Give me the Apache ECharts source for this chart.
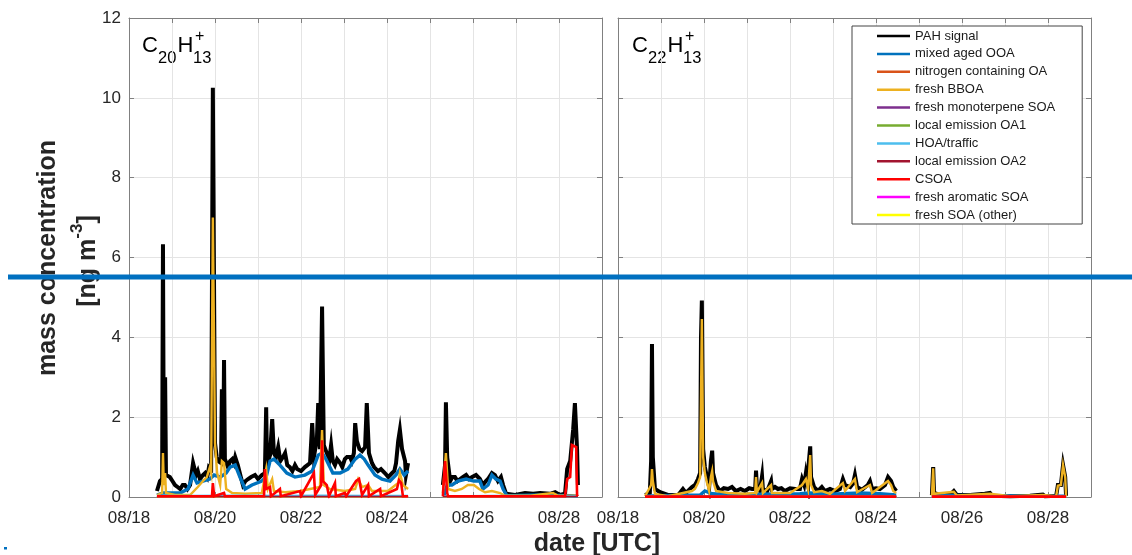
<!DOCTYPE html>
<html>
<head>
<meta charset="utf-8">
<script src="https://cdn.jsdelivr.net/npm/echarts@6/dist/echarts.min.js"></script>
<style>
html,body{margin:0;padding:0;background:#fff;}
#chart{width:1132px;height:555px;}
</style>
</head>
<body>
<div id="chart"></div>
<script>
// x values are days after 08/18 00:00 UTC
const xTickLabels = ['08/18','','08/20','','08/22','','08/24','','08/26','','08/28',''];
const seriesNames = ['PAH signal','mixed aged OOA','nitrogen containing OA','fresh BBOA','fresh monoterpene SOA','local emission OA1','HOA/traffic','local emission OA2','CSOA','fresh aromatic SOA','fresh SOA (other)'];
const seriesColors = ['#000000','#0072BD','#D95319','#EDB120','#7E2F8E','#77AC30','#4DBEEE','#A2142F','#FF0000','#FF00FF','#FFFF00'];

// ---- C20H13+ panel ----
const pahC20 = [[0.65,0.15],[0.72,0.4],[0.77,0.45],[0.79,6.33],[0.81,0.6],[0.84,3.0],[0.86,0.55],[0.95,0.5],[1.01,0.4],[1.07,0.3],[1.13,0.25],[1.19,0.2],[1.25,0.3],[1.30,0.3],[1.36,0.2],[1.42,0.3],[1.49,0.85],[1.56,0.55],[1.60,0.65],[1.65,0.45],[1.72,0.55],[1.77,0.6],[1.82,0.5],[1.86,0.75],[1.91,0.7],[1.95,10.25],[2.00,1.35],[2.04,1.0],[2.07,0.9],[2.14,0.85],[2.16,2.7],[2.19,0.9],[2.21,3.43],[2.23,0.95],[2.30,0.75],[2.35,0.9],[2.40,0.95],[2.44,0.85],[2.47,1.0],[2.53,0.8],[2.60,0.5],[2.65,0.3],[2.71,0.4],[2.77,0.45],[2.84,0.5],[2.93,0.55],[3.00,0.45],[3.09,0.55],[3.16,0.6],[3.19,2.25],[3.21,0.8],[3.28,1.05],[3.33,1.95],[3.37,1.1],[3.42,1.0],[3.47,1.25],[3.52,0.9],[3.58,1.0],[3.63,1.1],[3.68,0.8],[3.74,0.75],[3.80,0.65],[3.86,0.8],[3.91,0.7],[4.00,0.65],[4.09,0.75],[4.15,0.8],[4.21,0.85],[4.26,1.85],[4.30,1.0],[4.37,1.45],[4.40,2.35],[4.44,1.2],[4.49,4.77],[4.53,1.3],[4.60,1.1],[4.66,0.95],[4.70,1.3],[4.74,0.9],[4.79,0.8],[4.84,0.95],[4.91,0.85],[4.96,0.75],[5.02,0.95],[5.07,1.0],[5.14,1.0],[5.18,0.9],[5.23,1.1],[5.26,1.85],[5.30,1.4],[5.36,1.2],[5.42,1.15],[5.49,1.25],[5.53,2.35],[5.58,1.1],[5.65,0.85],[5.70,0.75],[5.79,0.65],[5.86,0.7],[5.95,0.6],[6.03,0.5],[6.12,0.6],[6.17,0.65],[6.21,0.85],[6.26,1.4],[6.30,1.68],[6.35,1.2],[6.42,0.9],[6.44,0.55],[6.49,0.85],[7.0,'-'],[7.30,0.3],[7.35,0.8],[7.37,2.37],[7.40,1.0],[7.47,0.4],[7.52,0.5],[7.58,0.5],[7.64,0.4],[7.70,0.45],[7.77,0.5],[7.84,0.55],[7.91,0.45],[7.98,0.5],[8.07,0.55],[8.16,0.45],[8.23,0.3],[8.30,0.4],[8.35,0.45],[8.44,0.6],[8.51,0.55],[8.58,0.4],[8.65,0.5],[8.70,0.3],[8.77,0.08],[8.98,0.05],[9.21,0.1],[9.40,0.08],[9.56,0.1],[9.79,0.08],[9.91,0.12],[10.02,0.05],[10.14,0.08],[10.19,0.7],[10.26,0.9],[10.33,1.7],[10.37,2.35],[10.42,1.2],[10.44,0.3]];
const ooaC20 = [[0.65,0.05],[0.79,0.1],[0.95,0.1],[1.19,0.1],[1.37,0.2],[1.49,0.55],[1.58,0.35],[1.72,0.4],[1.88,0.45],[1.98,0.55],[2.12,0.5],[2.26,0.6],[2.35,0.75],[2.47,0.8],[2.58,0.5],[2.70,0.2],[2.86,0.3],[3.09,0.4],[3.19,0.5],[3.28,0.9],[3.37,0.95],[3.51,0.8],[3.67,0.6],[3.86,0.5],[4.09,0.55],[4.26,0.65],[4.40,1.05],[4.49,1.1],[4.58,0.95],[4.74,0.6],[4.91,0.6],[5.09,0.7],[5.26,0.95],[5.37,1.05],[5.47,0.95],[5.56,0.8],[5.72,0.55],[5.88,0.45],[6.07,0.4],[6.21,0.55],[6.30,0.7],[6.40,0.55],[6.49,0.65],[7.0,'-'],[7.33,0.05],[7.40,0.3],[7.51,0.3],[7.65,0.4],[7.84,0.45],[8.02,0.4],[8.16,0.4],[8.23,0.2],[8.35,0.3],[8.44,0.55],[8.53,0.45],[8.63,0.4],[8.70,0.2],[8.79,0.03],[9.56,0.05],[10.26,0.03],[10.44,0.02]];
const noaC20 = [[0.65,0.01],[3.0,0.02],[6.49,0.01],[7.0,'-'],[7.30,0.01],[10.44,0.01]];
const bboaC20 = [[0.65,0.05],[0.77,0.1],[0.79,1.1],[0.81,0.3],[0.84,0.6],[0.86,0.1],[1.07,0.05],[1.42,0.05],[1.60,0.25],[1.72,0.4],[1.81,0.5],[1.88,0.75],[1.91,0.6],[1.95,7.0],[2.00,1.35],[2.05,0.6],[2.12,0.3],[2.16,0.9],[2.21,0.85],[2.26,0.2],[2.40,0.1],[2.70,0.08],[3.09,0.1],[3.19,0.7],[3.23,0.2],[3.33,0.45],[3.37,0.15],[3.63,0.12],[3.98,0.15],[4.21,0.2],[4.44,0.25],[4.49,1.68],[4.53,0.3],[4.67,0.2],[5.02,0.15],[5.26,0.2],[5.33,0.45],[5.42,0.25],[5.56,0.3],[5.65,0.15],[6.02,0.15],[6.26,0.35],[6.30,0.6],[6.37,0.3],[6.49,0.2],[7.0,'-'],[7.30,0.1],[7.37,1.1],[7.42,0.2],[7.58,0.15],[7.74,0.2],[7.88,0.3],[8.02,0.3],[8.14,0.2],[8.28,0.12],[8.44,0.15],[8.63,0.1],[8.74,0.03],[9.33,0.03],[9.86,0.1],[9.98,0.03],[10.44,0.03]];
const monoC20 = [[0.65,0.01],[3.5,0.01],[6.49,0.01],[7.0,'-'],[7.30,0.01],[10.44,0.01]];
const oa1C20 = [[0.65,0.01],[4.0,0.01],[6.49,0.01],[7.0,'-'],[7.30,0.01],[10.44,0.01]];
const hoaC20 = [[0.65,0.03],[1.5,0.03],[2.5,0.04],[3.5,0.03],[4.5,0.04],[5.5,0.03],[6.49,0.03],[7.0,'-'],[7.30,0.02],[8.5,0.03],[10.44,0.02]];
const oa2C20 = [[0.65,0.01],[5.0,0.01],[6.49,0.01],[7.0,'-'],[7.30,0.01],[10.44,0.01]];
const csoaC20 = [[0.65,0.02],[1.93,0.02],[1.95,0.35],[1.98,0.02],[2.21,0.1],[2.23,0.02],[3.14,0.02],[3.16,0.7],[3.19,0.2],[3.28,0.25],[3.30,0.02],[3.51,0.2],[3.53,0.02],[3.98,0.15],[4.00,0.02],[4.30,0.6],[4.33,0.05],[4.47,0.3],[4.49,1.42],[4.51,0.4],[4.60,0.3],[4.65,0.02],[4.79,0.35],[4.81,0.02],[5.02,0.1],[5.05,0.02],[5.28,0.4],[5.35,0.45],[5.42,0.05],[5.56,0.3],[5.58,0.02],[5.84,0.2],[5.86,0.02],[6.23,0.2],[6.28,0.42],[6.33,0.35],[6.37,0.02],[6.49,0.02],[7.0,'-'],[7.30,0.02],[7.33,0.6],[7.35,0.9],[7.40,0.1],[7.42,0.02],[10.14,0.02],[10.19,0.45],[10.26,0.5],[10.30,1.3],[10.40,1.25],[10.42,0.05],[10.44,0.02]];
const aroC20 = [[0.65,0.0],[6.49,0.0],[7.0,'-'],[7.30,0.0],[10.44,0.0]];
const soaC20 = [[0.65,0.0],[6.49,0.0],[7.0,'-'],[7.30,0.0],[10.44,0.0]];

// ---- C22H13+ panel ----
const pahC22 = [[0.63,0.05],[0.74,0.1],[0.77,0.9],[0.79,3.83],[0.81,1.0],[0.86,0.2],[0.98,0.12],[1.16,0.05],[1.40,0.05],[1.51,0.2],[1.58,0.1],[1.72,0.25],[1.79,0.3],[1.86,0.45],[1.91,0.6],[1.93,4.0],[1.95,4.92],[1.98,1.2],[2.02,0.75],[2.07,0.5],[2.12,0.25],[2.16,0.9],[2.19,1.16],[2.21,0.6],[2.28,0.3],[2.37,0.15],[2.46,0.22],[2.56,0.2],[2.65,0.25],[2.74,0.15],[2.85,0.2],[2.95,0.15],[3.05,0.22],[3.12,0.2],[3.19,0.2],[3.21,0.66],[3.23,0.25],[3.30,0.15],[3.35,0.52],[3.37,0.2],[3.47,0.15],[3.56,0.4],[3.58,0.2],[3.65,0.25],[3.72,0.2],[3.80,0.22],[3.88,0.15],[4.00,0.22],[4.12,0.2],[4.23,0.2],[4.28,0.45],[4.33,0.3],[4.37,0.6],[4.42,0.3],[4.44,0.9],[4.47,1.27],[4.49,0.5],[4.56,0.25],[4.65,0.15],[4.74,0.25],[4.81,0.15],[4.93,0.2],[5.05,0.15],[5.16,0.2],[5.23,0.45],[5.28,0.3],[5.40,0.25],[5.47,0.35],[5.51,0.55],[5.56,0.25],[5.67,0.18],[5.81,0.3],[5.86,0.4],[5.91,0.2],[6.00,0.22],[6.09,0.2],[6.21,0.3],[6.28,0.5],[6.35,0.4],[6.40,0.25],[6.47,0.15],[7.0,'-'],[7.30,0.05],[7.33,0.75],[7.35,0.1],[7.49,0.05],[7.72,0.05],[7.81,0.15],[7.88,0.05],[8.19,0.05],[8.53,0.08],[8.65,0.1],[8.70,0.03],[9.12,0.02],[9.58,0.03],[9.88,0.06],[9.93,0.02],[10.19,0.03],[10.23,0.3],[10.30,0.3],[10.35,0.8],[10.40,0.5],[10.42,0.03]];
const ooaC22 = [[0.63,0.02],[0.98,0.03],[1.91,0.05],[2.02,0.15],[2.19,0.08],[2.61,0.06],[3.30,0.07],[4.23,0.08],[4.47,0.1],[4.93,0.07],[5.63,0.1],[6.09,0.08],[6.47,0.05],[7.0,'-'],[7.30,0.02],[7.72,0.04],[8.65,0.04],[9.58,0.02],[10.42,0.02]];
const noaC22 = [[0.63,0.01],[3.5,0.01],[6.47,0.01],[7.0,'-'],[7.30,0.01],[10.42,0.01]];
const bboaC22 = [[0.63,0.02],[0.77,0.3],[0.79,0.7],[0.81,0.4],[0.86,0.08],[1.16,0.02],[1.51,0.1],[1.72,0.15],[1.79,0.2],[1.86,0.35],[1.91,0.5],[1.95,4.46],[1.98,1.0],[2.02,0.6],[2.07,0.35],[2.12,0.15],[2.16,0.5],[2.19,0.65],[2.21,0.4],[2.28,0.15],[2.56,0.1],[2.95,0.08],[3.19,0.1],[3.21,0.5],[3.23,0.12],[3.35,0.35],[3.37,0.1],[3.56,0.3],[3.58,0.1],[4.00,0.1],[4.28,0.3],[4.37,0.45],[4.42,0.2],[4.47,1.05],[4.49,0.3],[4.56,0.12],[4.74,0.15],[4.93,0.08],[5.23,0.35],[5.28,0.15],[5.51,0.45],[5.56,0.12],[5.86,0.3],[5.91,0.1],[6.28,0.4],[6.35,0.3],[6.40,0.15],[6.47,0.1],[7.0,'-'],[7.30,0.03],[7.33,0.72],[7.35,0.08],[7.81,0.13],[7.88,0.04],[8.65,0.08],[9.12,0.02],[9.88,0.05],[10.19,0.02],[10.23,0.28],[10.30,0.3],[10.35,0.8],[10.40,0.5],[10.42,0.02]];
const monoC22 = [[0.63,0.01],[4.0,0.01],[6.47,0.01],[7.0,'-'],[7.30,0.01],[10.42,0.01]];
const oa1C22 = [[0.63,0.01],[3.0,0.01],[6.47,0.01],[7.0,'-'],[7.30,0.01],[10.42,0.01]];
const hoaC22 = [[0.63,0.02],[2.0,0.02],[4.0,0.02],[6.47,0.02],[7.0,'-'],[7.30,0.01],[10.42,0.01]];
const oa2C22 = [[0.63,0.01],[5.0,0.01],[6.47,0.01],[7.0,'-'],[7.30,0.01],[10.42,0.01]];
const csoaC22 = [[0.63,0.01],[2.0,0.01],[4.0,0.01],[6.47,0.01],[7.0,'-'],[7.30,0.01],[9.0,0.01],[10.42,0.01]];
const aroC22 = [[0.63,0.0],[6.47,0.0],[7.0,'-'],[7.30,0.0],[10.42,0.0]];
const soaC22 = [[0.63,0.0],[6.47,0.0],[7.0,'-'],[7.30,0.0],[10.42,0.0]];

const panelData = [
  [pahC20, ooaC20, noaC20, bboaC20, monoC20, oa1C20, hoaC20, oa2C20, csoaC20, aroC20, soaC20],
  [pahC22, ooaC22, noaC22, bboaC22, monoC22, oa1C22, hoaC22, oa2C22, csoaC22, aroC22, soaC22]
];
const lineWidths = [4, 3.4, 1.5, 2.4, 1.5, 1.5, 2, 1.5, 2.6, 1.5, 1.5];
const zLevels   = [2, 2, 2, 2, 2, 2, 2, 2, 4, 1, 1];

const FONT = '"Liberation Sans", Arial, Helvetica, sans-serif';
const FRAME = '#808080';
const GRIDC = '#e4e4e4';
const TXT = '#262626';

const chart = echarts.init(document.getElementById('chart'), null, {renderer:'canvas'});

const grids = [
  {left:129, top:18, width:473, height:479},
  {left:618, top:18, width:473, height:479}
];
const xAxes = [], yAxes = [];
for (let g = 0; g < 2; g++) {
  xAxes.push({type:'value', gridIndex:g, min:0, max:11, interval:1, position:'bottom',
    axisLine:{show:true, onZero:false, lineStyle:{color:FRAME, width:1}},
    axisTick:{show:true, inside:true, length:5, lineStyle:{color:FRAME}},
    axisLabel:{show:true, margin:13, fontSize:17, color:TXT, fontFamily:FONT,
      formatter:(v)=>xTickLabels[Math.round(v)] || ''},
    splitLine:{show:true, lineStyle:{color:GRIDC, width:1}}});
  xAxes.push({type:'value', gridIndex:g, min:0, max:11, interval:1, position:'top',
    axisLine:{show:true, onZero:false, lineStyle:{color:FRAME, width:1}},
    axisTick:{show:true, inside:true, length:5, lineStyle:{color:FRAME}},
    axisLabel:{show:false}, splitLine:{show:false}});
  yAxes.push({type:'value', gridIndex:g, min:0, max:12, interval:2, position:'left',
    axisLine:{show:true, onZero:false, lineStyle:{color:FRAME, width:1}},
    axisTick:{show:true, inside:true, length:5, lineStyle:{color:FRAME}},
    axisLabel:{show:g===0, margin:8, fontSize:17, color:TXT, fontFamily:FONT},
    splitLine:{show:true, lineStyle:{color:GRIDC, width:1}}});
  yAxes.push({type:'value', gridIndex:g, min:0, max:12, interval:2, position:'right',
    axisLine:{show:true, onZero:false, lineStyle:{color:FRAME, width:1}},
    axisTick:{show:true, inside:true, length:5, lineStyle:{color:FRAME}},
    axisLabel:{show:false}, splitLine:{show:false}});
}

const series = [];
for (let g = 0; g < 2; g++) {
  for (let i = 0; i < seriesNames.length; i++) {
    series.push({
      type:'line', name:seriesNames[i], data:panelData[g][i],
      xAxisIndex:g*2, yAxisIndex:g*2,
      symbol:'none', showSymbol:false, connectNulls:false, animation:false,
      z:zLevels[i],
      lineStyle:{color:seriesColors[i], width:lineWidths[i], join:'miter'},
      itemStyle:{color:seriesColors[i]},
      emphasis:{disabled:true}
    });
  }
}

function titleParts(x0, sub) {
  return [
    {type:'text', x:x0, y:46, style:{text:'C', font:'22px ' + FONT, fill:'#000', textAlign:'left', textVerticalAlign:'middle'}},
    {type:'text', x:x0+16, y:58, style:{text:sub, font:'16.5px ' + FONT, fill:'#000', textAlign:'left', textVerticalAlign:'middle'}},
    {type:'text', x:x0+35.5, y:46, style:{text:'H', font:'22px ' + FONT, fill:'#000', textAlign:'left', textVerticalAlign:'middle'}},
    {type:'text', x:x0+53, y:37, style:{text:'+', font:'16px ' + FONT, fill:'#000', textAlign:'left', textVerticalAlign:'middle'}},
    {type:'text', x:x0+51, y:58, style:{text:'13', font:'16.5px ' + FONT, fill:'#000', textAlign:'left', textVerticalAlign:'middle'}}
  ];
}

const graphics = [].concat(
  titleParts(142, '20'),
  titleParts(632, '22'),
  [
    {type:'text', x:48, y:258, rotation:Math.PI/2,
      style:{text:'mass concentration', font:'bold 25px ' + FONT, fill:'#262626', textAlign:'center', textVerticalAlign:'middle'}},
    {type:'text', x:85, y:261, rotation:Math.PI/2,
      style:{text:'{n|[ng m}{s|-3}{n|]}', textAlign:'center', textVerticalAlign:'middle', fill:'#262626',
        rich:{n:{fontSize:25, fontWeight:'bold', fontFamily:FONT, lineHeight:32, verticalAlign:'bottom', fill:'#262626'},
              s:{fontSize:17, fontWeight:'bold', fontFamily:FONT, lineHeight:17, verticalAlign:'top', fill:'#262626'}}}},
    {type:'text', x:597, y:544,
      style:{text:'date [UTC]', font:'bold 25px ' + FONT, fill:'#262626', textAlign:'center', textVerticalAlign:'middle'}},
    {type:'line', z:100, shape:{x1:8, y1:277, x2:1132, y2:277}, style:{stroke:'#0070C0', lineWidth:5}},
    {type:'rect', z:100, shape:{x:4, y:547, width:3, height:2.5}, style:{fill:'#0070C0'}}
  ]
);

chart.setOption({
  animation:false,
  backgroundColor:'#ffffff',
  grid:grids,
  xAxis:xAxes,
  yAxis:yAxes,
  legend:{
    data:seriesNames, orient:'vertical', left:852, top:26,
    icon:'rect', itemWidth:33, itemHeight:2.5, itemGap:3.9,
    padding:[3,27,2,25], backgroundColor:'#ffffff', borderColor:'#444444', borderWidth:1,
    selectedMode:false,
    textStyle:{fontSize:13, color:'#1a1a1a', fontFamily:FONT, lineHeight:14}
  },
  series:series,
  graphic:graphics
});
</script>
</body>
</html>
